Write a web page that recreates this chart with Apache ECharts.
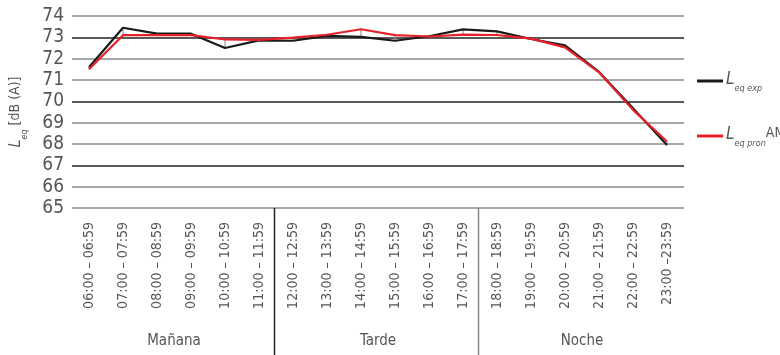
<!DOCTYPE html>
<html>
<head>
<meta charset="utf-8">
<script src="https://cdn.jsdelivr.net/npm/echarts@6/dist/echarts.min.js"></script>
<style>
  html, body { margin: 0; padding: 0; background: #fff; }
  #chart { width: 780px; height: 355px; }
</style>
</head>
<body>
<div id="chart"></div>
<script>
// Hourly intervals
var hours = [
  '06:00 – 06:59', '07:00 – 07:59', '08:00 – 08:59', '09:00 – 09:59',
  '10:00 – 10:59', '11:00 – 11:59', '12:00 – 12:59', '13:00 – 13:59',
  '14:00 – 14:59', '15:00 – 15:59', '16:00 – 16:59', '17:00 – 17:59',
  '18:00 – 18:59', '19:00 – 19:59', '20:00 – 20:59', '21:00 – 21:59',
  '22:00 – 22:59', '23:00 –23:59'
];
// Periods of the day (6 hours each)
var periods = ['Mañana', 'Tarde', 'Noche'];

// Measured Leq, dB(A)
var leqExp = [71.6, 73.45, 73.17, 73.17, 72.5, 72.86, 72.84, 73.07, 73.02, 72.84,
              73.05, 73.37, 73.28, 72.92, 72.62, 71.38, 69.68, 67.95];
// Predicted Leq (AM), dB(A)
var leqPron = [71.5, 73.1, 73.1, 73.1, 72.9, 72.88, 72.99, 73.12, 73.38, 73.1,
               73.04, 73.13, 73.11, 72.94, 72.53, 71.36, 69.6, 68.12];

var yTicks = { min: 65, max: 74, step: 1 };

var FONT = "'DejaVu Sans Condensed', 'Liberation Sans Narrow', sans-serif";
var TXT = '#555';

var chart = echarts.init(document.getElementById('chart'));

function subRich(size, subSize, subDrop, nSize) {
  return {
    L:   { fontFamily: FONT, fontSize: size, fontStyle: 'italic', color: TXT, lineHeight: 20, verticalAlign: 'top' },
    sub: { fontFamily: FONT, fontSize: subSize, fontStyle: 'italic', color: TXT, lineHeight: 12, padding: [subDrop, 0, 0, 0], verticalAlign: 'top' },
    n:   { fontFamily: FONT, fontSize: nSize, color: TXT, lineHeight: 20, verticalAlign: 'top' }
  };
}

var option = {
  animation: false,
  backgroundColor: '#fff',
  grid: { left: 70, right: 96, top: 16, bottom: 147, containLabel: false },
  legend: {
    orient: 'vertical',
    left: 692,
    top: 66,
    itemWidth: 26,
    itemHeight: 3,
    itemGap: 33,
    icon: 'rect',
    data: ['exp', 'pron'],
    formatter: function (name) {
      return name === 'exp' ? '{L|L}{sub|eq exp}' : '{L|L}{sub|eq pron}{n|AM}';
    },
    textStyle: { rich: subRich(17, 9, 13, 14), padding: [0, 0, 0, -2] }
  },
  xAxis: [
    {
      type: 'category',
      data: hours,
      boundaryGap: true,
      axisLine: { show: false },
      axisTick: { show: false },
      axisLabel: {
        rotate: 90,
        margin: 14,
        interval: 0,
        fontFamily: FONT,
        fontSize: 14,
        color: TXT
      }
    },
    {
      type: 'category',
      data: periods,
      position: 'bottom',
      offset: 118,
      boundaryGap: true,
      axisLine: { show: false },
      axisTick: { show: false },
      axisLabel: { margin: 8, fontFamily: FONT, fontSize: 15, color: TXT }
    }
  ],
  yAxis: {
    type: 'value',
    min: yTicks.min,
    max: yTicks.max,
    interval: yTicks.step,
    axisLine: { show: false },
    axisTick: { show: false },
    axisLabel: { margin: 8, fontFamily: FONT, fontSize: 19, color: TXT },
    splitLine: { lineStyle: { color: ['#8a8a8a', '#8a8a8a', '#222'], width: 1.5 } },
    name: '{L|L}{sub|eq}{n| [dB (A)]}',
    nameLocation: 'middle',
    nameRotate: 90,
    nameGap: 44,
    nameTextStyle: { rich: subRich(16, 9, 12, 14) }
  },
  series: [
    {
      // thin connectors between measured and predicted values
      type: 'custom',
      silent: true,
      z: 1,
      data: hours.map(function (h, i) { return [i, leqExp[i], leqPron[i]]; }),
      renderItem: function (params, api) {
        var p1 = api.coord([api.value(0), api.value(1)]);
        var p2 = api.coord([api.value(0), api.value(2)]);
        return {
          type: 'line',
          shape: { x1: p1[0], y1: p1[1], x2: p2[0], y2: p2[1] },
          style: { stroke: '#999', lineWidth: 1.2 }
        };
      }
    },
    {
      name: 'exp',
      type: 'line',
      data: leqExp,
      z: 2,
      symbol: 'none',
      lineStyle: { color: '#1a1a1a', width: 2.2 },
      itemStyle: { color: '#1a1a1a' }
    },
    {
      name: 'pron',
      type: 'line',
      data: leqPron,
      z: 3,
      symbol: 'none',
      lineStyle: { color: '#e8202a', width: 2.2 },
      itemStyle: { color: '#e8202a' }
    }
  ]
};

chart.setOption(option);

// Vertical separators between the periods, from the axis down to the bottom edge
var yBase = chart.convertToPixel({ yAxisIndex: 0 }, yTicks.min);
var sepColors = ['#222', '#888'];
var graphics = [];
[6, 12].forEach(function (idx, k) {
  var a = chart.convertToPixel({ xAxisIndex: 0 }, hours[idx - 1]);
  var b = chart.convertToPixel({ xAxisIndex: 0 }, hours[idx]);
  var x = Math.round((a + b) / 2) - 1.5;
  graphics.push({
    type: 'line',
    shape: { x1: x, y1: yBase, x2: x, y2: 355 },
    style: { stroke: sepColors[k], lineWidth: 1.5 }
  });
});
chart.setOption({ graphic: graphics });
</script>
</body>
</html>
